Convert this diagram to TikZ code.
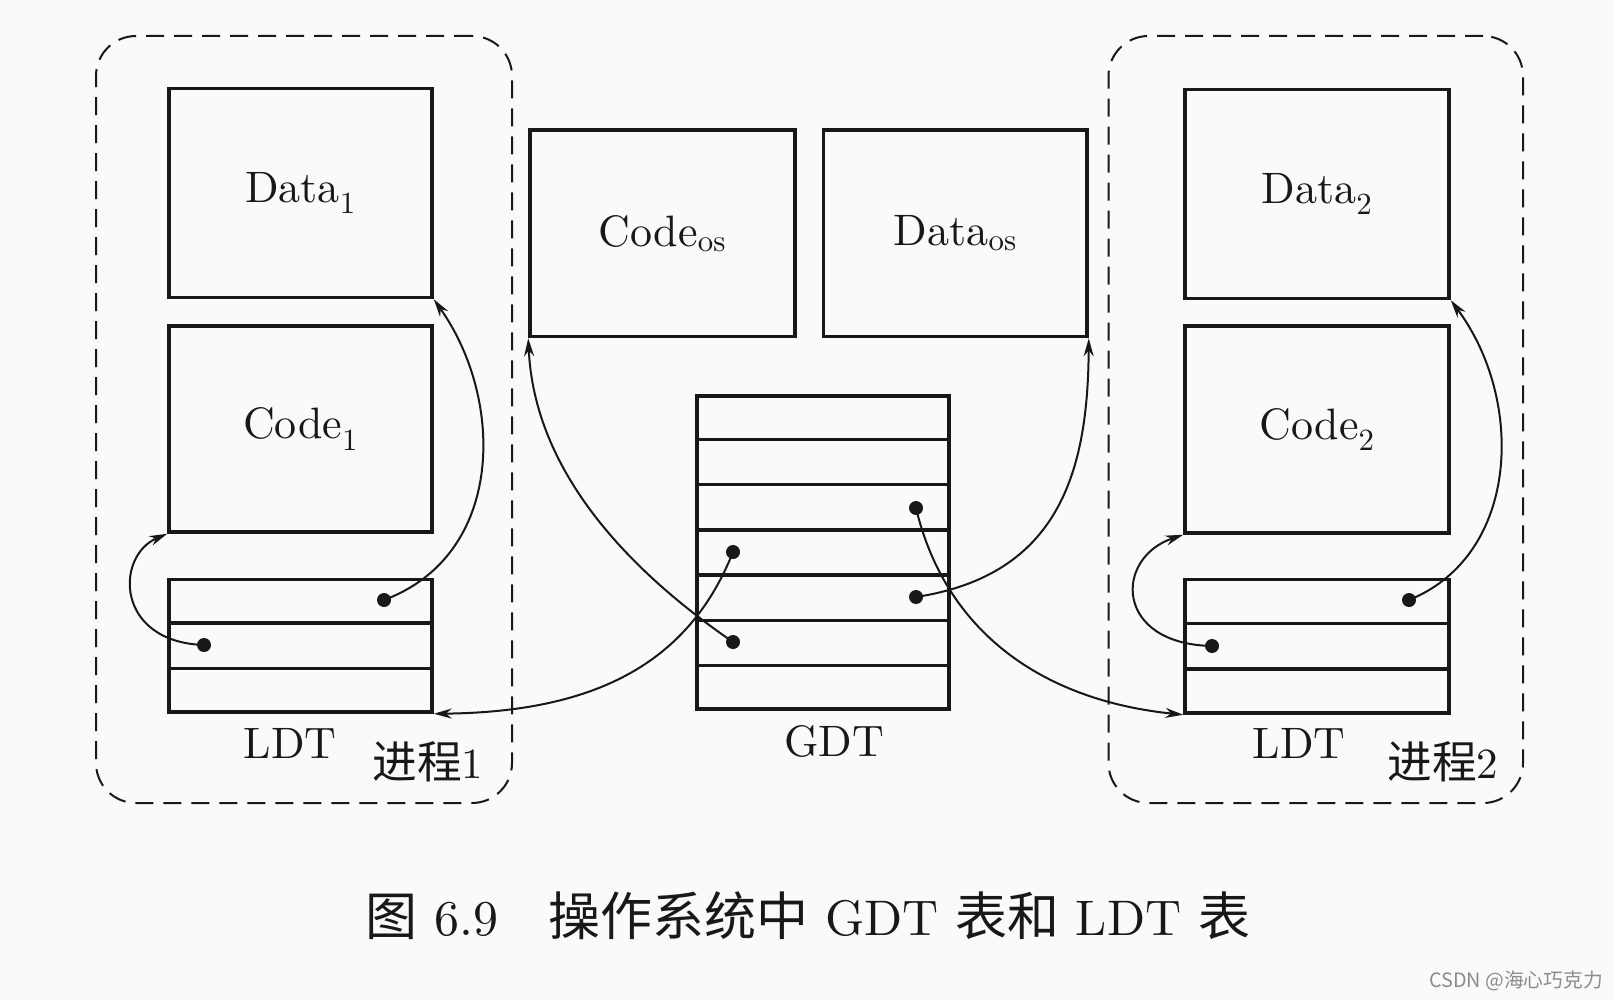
\documentclass[tikz,border=0pt]{standalone}
\usepackage{fontspec}
\setmainfont{lmroman10-regular.otf}
\newfontfamily\cjk[Scale=1.04]{Noto Sans CJK SC}
\usetikzlibrary{arrows.meta,calc}
\definecolor{ink}{RGB}{24,24,24}
\definecolor{paper}{RGB}{250,250,248}
\begin{document}
\begin{tikzpicture}[x=1pt,y=-1pt,
  box/.style n args={2}{draw=ink, line width=3.5pt, minimum width=#1pt, minimum height=#2pt,
      inner sep=0pt, font=\fontsize{44}{53}\selectfont, text=ink},
  dashbox/.style n args={2}{draw=ink, line width=2pt, dash pattern=on 18pt off 10pt,
      rounded corners=40pt, minimum width=#1pt, minimum height=#2pt, inner sep=0pt},
  rowline/.style={draw=ink, line width=3.5pt},
  conn/.style={draw=ink, line width=2pt, -{Stealth[length=18pt,width=10pt]}},
  lbl/.style={font=\fontsize{44}{53}\selectfont, text=ink, inner sep=0pt},
  dot/.style={fill=ink}
]
\useasboundingbox[fill=paper] (0,0) rectangle (1614,1000);

% process containers
\node[dashbox={416}{767}] (p1) at (304,419.5) {};
\node[dashbox={414.5}{767}] (p2) at (1315.75,419.5) {};

% process 1
\node[box={263}{209}] (data1) at (300.5,193) {Data\textsubscript{1}};
\node[box={263}{206}] (code1) at (300.5,429) {Code\textsubscript{1}};
\node[box={263}{132.5}] (ldt1) at (300.5,645.75) {};
\foreach \i in {1,2}
  \draw[rowline] ($(ldt1.north west)!\i/3!(ldt1.south west)$) -- ($(ldt1.north east)!\i/3!(ldt1.south east)$);
\node[lbl] (ldt1lbl) at (290,743) {LDT};
\node[lbl, font=\fontsize{43}{51}\selectfont] (p1lbl) at (428,762) {{\cjk 进程}1};

% OS segments
\node[box={265}{206.6}] (codeos) at (662.5,233.3) {Code\textsubscript{os}};
\node[box={263.5}{206.6}] (dataos) at (955.25,233.3) {Data\textsubscript{os}};

% GDT
\node[box={252}{313}] (gdt) at (823,552.5) {};
\foreach \i in {1,...,6}
  \draw[rowline] ($(gdt.north west)!\i/7!(gdt.south west)$) -- ($(gdt.north east)!\i/7!(gdt.south east)$);
\node[lbl] (gdtlbl) at (834,741) {GDT};

% process 2
\node[box={264}{209}] (data2) at (1317,194) {Data\textsubscript{2}};
\node[box={264}{207}] (code2) at (1317,429.5) {Code\textsubscript{2}};
\node[box={264}{133.5}] (ldt2) at (1317,646.25) {};
\foreach \i in {1,2}
  \draw[rowline] ($(ldt2.north west)!\i/3!(ldt2.south west)$) -- ($(ldt2.north east)!\i/3!(ldt2.south east)$);
\node[lbl] (ldt2lbl) at (1299,743) {LDT};
\node[lbl, font=\fontsize{43}{51}\selectfont] (p2lbl) at (1443,762) {{\cjk 进程}2};

% descriptor dots
\coordinate (l1a) at (384,600);
\coordinate (l1b) at (204,645);
\coordinate (g3) at (916,508);
\coordinate (g4) at (733,552);
\coordinate (g5) at (916,597);
\coordinate (g6) at (733,642);
\coordinate (l2a) at (1409,600);
\coordinate (l2b) at (1212,646);
\foreach \d in {l1a,l1b,g3,g4,g5,g6,l2a,l2b}
  \fill[dot] (\d) circle (7pt);

% connectors
\draw[conn] (l1b) .. controls (115,642) and (115,556) .. (code1.south west);
\draw[conn] (l1a) .. controls (505,555) and (505,400) .. (data1.south east);
\draw[conn] (g6) .. controls (650,585) and (535,485) .. (codeos.south west);
\draw[conn] (g4) .. controls (690,660) and (600,712) .. (ldt1.south east);
\draw[conn] (g5) .. controls (1060,575) and (1088,470) .. (dataos.south east);
\draw[conn] (g3) .. controls (945,630) and (1040,700) .. (ldt2.south west);
\draw[conn] (l2b) .. controls (1114,644) and (1114,558) .. (code2.south west);
\draw[conn] (l2a) .. controls (1520,555) and (1525,400) .. (data2.south east);

% caption
\node[font=\fontsize{50}{60}\selectfont, text=ink, inner sep=0pt] (cap) at (808,916)
  {{\cjk 图} 6.9\quad{\cjk 操作系统中} GDT {\cjk 表和} LDT {\cjk 表}};
% watermark
\node[font=\cjk\fontsize{19}{22}\selectfont, text=black!45, inner sep=0pt] (wm) at (1516,981) {CSDN @海心巧克力};
\end{tikzpicture}
\end{document}
